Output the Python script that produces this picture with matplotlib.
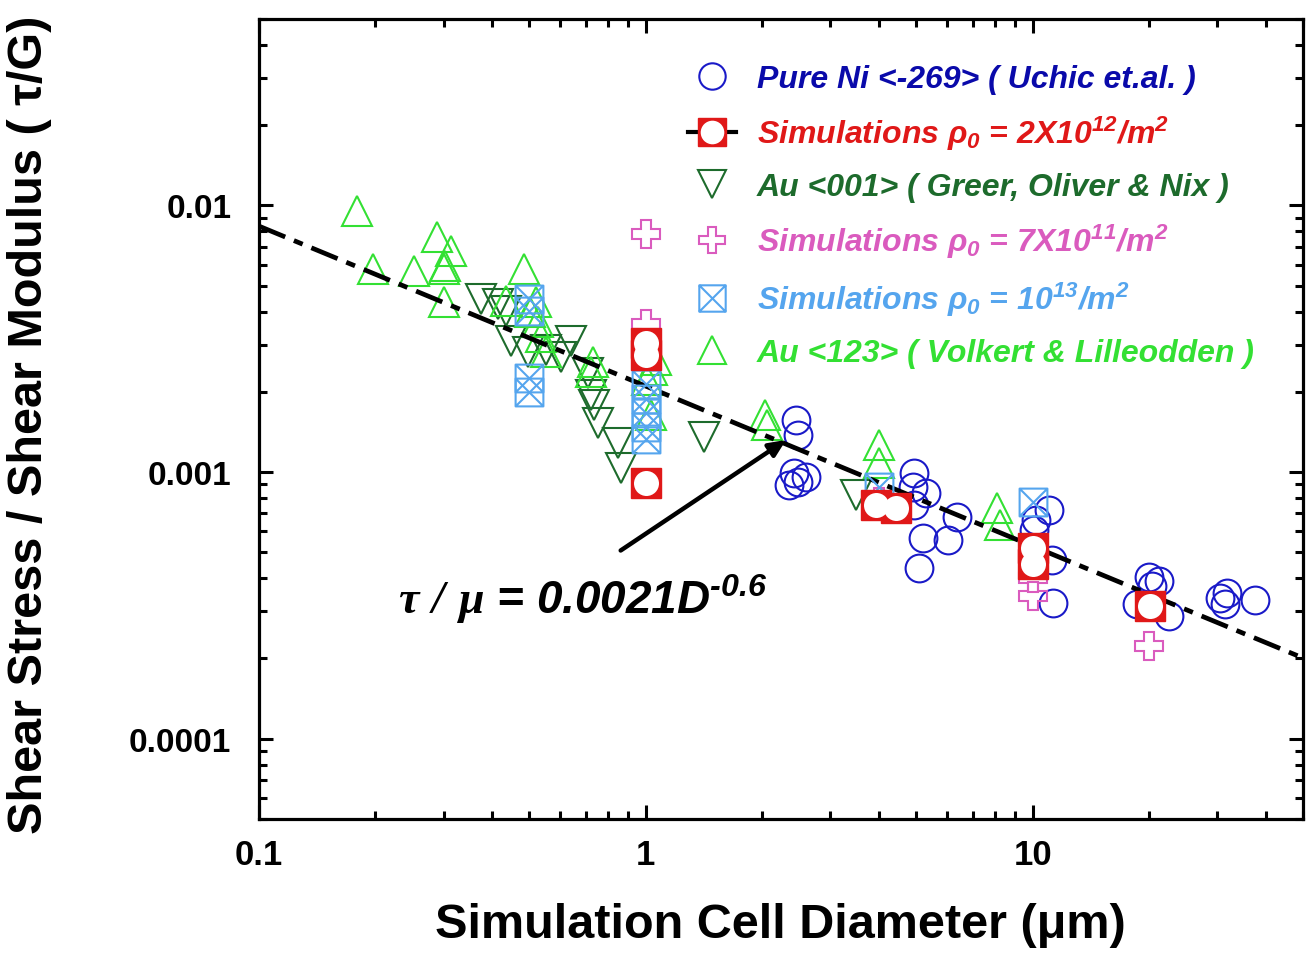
import matplotlib
matplotlib.use('Agg')
import matplotlib.pyplot as plt
import numpy as np
from matplotlib.lines import Line2D
from matplotlib.path import Path
from matplotlib.legend_handler import HandlerTuple

# Pure Ni <-269> (Uchic et al.)
ni_x = [2.45, 2.48, 2.42, 2.48, 2.60, 2.35, 4.95, 4.92, 5.31, 4.95, 6.36, 5.22, 6.06, 5.07,
        11.0, 10.1, 10.2, 11.2, 11.3, 18.6, 20.0, 21.2, 20.3, 22.5, 30.5, 31.4, 31.8, 37.6]
ni_y = [0.00157, 0.00138, 0.00099, 0.000916, 0.000958, 0.000893, 0.00099, 0.000878, 0.000834,
        0.000751, 0.000678, 0.000564, 0.000555, 0.000438, 0.000719, 0.000605, 0.00066, 0.000467,
        0.000324, 0.000321, 0.000403, 0.000392, 0.000375, 0.000289, 0.000338, 0.000321, 0.000353,
        0.00033]

# simulations rho0 = 2e12
sim2_x = [1.0, 1.0, 1.0, 3.94, 4.44, 10.0, 10.0, 20.1]
sim2_y = [0.00306, 0.00274, 0.00091, 0.000752, 0.000732, 0.000518, 0.000454, 0.000315]

# Au <001> (Greer, Oliver & Nix)
au001_x = [0.374, 0.414, 0.434, 0.447, 0.495, 0.551, 0.64, 0.602, 0.707, 0.72, 0.733, 0.751,
           0.846, 0.861, 1.41, 3.5]
au001_y = [0.00445, 0.00425, 0.00401, 0.00309, 0.00281, 0.00288, 0.00309, 0.00271, 0.00236,
           0.00195, 0.00179, 0.00153, 0.00129, 0.00104, 0.00135, 0.00082]

# simulations rho0 = 7e11
sim7_x = [1.0, 1.0, 4.0, 10.0, 10.0, 20.0]
sim7_y = [0.0078, 0.0036, 0.00077, 0.00040, 0.000344, 0.000223]

# simulations rho0 = 1e13
sim13_x = [0.5, 0.5, 0.5, 0.5, 1.0, 1.0, 1.0, 1.0, 1.0, 4.0, 10.0]
sim13_y = [0.00445, 0.00401, 0.00226, 0.0020, 0.00214, 0.00188, 0.00167, 0.00148, 0.00133,
           0.00088, 0.00077]

# Au <123> (Volkert & Lilleodden)
au123_x = [0.179, 0.197, 0.251, 0.289, 0.313, 0.303, 0.30, 0.30, 0.483, 0.434, 0.519, 0.503,
           0.525, 0.535, 0.551, 0.729, 0.72, 1.04, 1.01, 1.06, 1.03, 2.03, 2.06, 4.01, 4.01,
           8.07, 8.22]
au123_y = [0.00953, 0.00576, 0.00566, 0.0076, 0.00674, 0.00592, 0.00576, 0.00433, 0.00576,
           0.00437, 0.00433, 0.00397, 0.00364, 0.00322, 0.00281, 0.00259, 0.00238, 0.00242,
           0.00222, 0.00264, 0.00164, 0.00164, 0.0015, 0.00126, 0.00108, 0.000731, 0.000631]

# power-law fit tau/mu = A * D^n
fit_coef = 0.0021
fit_exp = -0.6
fit_x = np.array([0.1, 50.0])

x_ticks = [0.1, 1, 10]
x_ticklabels = ['0.1', '1', '10']
y_ticks = [1e-4, 1e-3, 1e-2]
y_ticklabels = ['0.0001', '0.001', '0.01']

c_ni = '#1A1AC8'
c_red = '#E01818'
c_dkgreen = '#1D6B2C'
c_pink = '#DA5BBE'
c_cyan = '#55A5EE'
c_green = '#33E033'

plt.rcParams['font.family'] = ['Liberation Sans', 'DejaVu Sans']
plt.rcParams['font.weight'] = 'bold'
plt.rcParams['mathtext.fontset'] = 'custom'
plt.rcParams['mathtext.rm'] = 'Liberation Sans:bold:italic'
plt.rcParams['mathtext.it'] = 'Liberation Sans:bold:italic'
plt.rcParams['mathtext.bf'] = 'Liberation Sans:bold:italic'
plt.rcParams['mathtext.sf'] = 'Liberation Serif:italic'

# square with a cross inside
boxx = Path([(-1, -1), (1, -1), (1, 1), (-1, 1), (-1, -1), (-1, -1), (1, 1), (-1, 1), (1, -1)],
            [Path.MOVETO, Path.LINETO, Path.LINETO, Path.LINETO, Path.CLOSEPOLY,
             Path.MOVETO, Path.LINETO, Path.MOVETO, Path.LINETO])

fig = plt.figure(figsize=(13.07, 9.62), dpi=100)
ax = fig.add_axes([259 / 1307, 1 - 820 / 962, 1044 / 1307, 800 / 962])
ax.set_xscale('log')
ax.set_yscale('log')
ax.set_xlim(0.1, 50)
ax.set_ylim(5e-5, 0.05)

mk = dict(ls='none', mfc='none', mew=1.5)
ax.plot(ni_x, ni_y, marker='o', ms=20, mec=c_ni, zorder=2, **mk)
ax.plot(au001_x, au001_y, marker='v', ms=21, mec=c_dkgreen, zorder=2, **mk)
ax.plot(au123_x, au123_y, marker='^', ms=21, mec=c_green, zorder=2, **mk)
ax.plot(fit_x, fit_coef * fit_x ** fit_exp, color='k', lw=3.4, dashes=(6, 2, 2, 2), zorder=3)
ax.plot(sim7_x, sim7_y, marker='P', ms=20, mec=c_pink, zorder=4, **mk)
ax.plot(sim13_x, sim13_y, marker=boxx, ms=20, mec=c_cyan, zorder=4, **mk)
ax.plot(sim2_x, sim2_y, ls='none', marker='s', ms=21, mfc=c_red, mec=c_red, zorder=5)
ax.plot(sim2_x, sim2_y, ls='none', marker='o', ms=18, mfc='white', mec='none', zorder=5)

# legend
h_ni = Line2D([], [], marker='o', ms=19, mec=c_ni, **mk)
h_red = (Line2D([], [], color='k', lw=3),
         Line2D([], [], ls='none', marker='s', ms=20, mfc=c_red, mec=c_red),
         Line2D([], [], ls='none', marker='o', ms=17, mfc='white', mec='none'))
h_au001 = Line2D([], [], marker='v', ms=20, mec=c_dkgreen, **mk)
h_sim7 = Line2D([], [], marker='P', ms=19, mec=c_pink, **mk)
h_sim13 = Line2D([], [], marker=boxx, ms=19, mec=c_cyan, **mk)
h_au123 = Line2D([], [], marker='^', ms=20, mec=c_green, **mk)
labels = ['Pure Ni <-269> ( Uchic et.al. )',
          r'Simulations $\rho_0$ = 2X10$^{12}$/m$^2$',
          'Au <001> ( Greer, Oliver & Nix )',
          r'Simulations $\rho_0$ = 7X10$^{11}$/m$^2$',
          r'Simulations $\rho_0$ = 10$^{13}$/m$^2$',
          'Au <123> ( Volkert & Lilleodden )']
leg = ax.legend([h_ni, h_red, h_au001, h_sim7, h_sim13, h_au123], labels,
                handler_map={tuple: HandlerTuple(ndivide=1, pad=0)},
                loc='upper left', bbox_to_anchor=(0.411, 0.944), frameon=False,
                borderpad=0, borderaxespad=0, handlelength=1.5, handletextpad=0.65,
                labelspacing=0.62,
                prop=dict(family='Liberation Sans', weight='bold', style='italic', size=23),
                labelcolor=['#0A0AAA', c_red, c_dkgreen, c_pink, c_cyan, c_green])

# fit annotation
ax.annotate('', xy=(2.305, 0.00132), xytext=(0.861, 0.000508),
            arrowprops=dict(arrowstyle='-|>,head_length=1.0,head_width=0.45', color='k', lw=3.2,
                            shrinkA=0, shrinkB=0), zorder=6)
ax.text(0.229, 0.000297, '$\\mathsf{\\tau\\ /\\ \\mu}$ = 0.0021D$^{\u2010 0.6}$',
        fontsize=33, fontweight='bold', fontstyle='italic', ha='left', va='baseline', zorder=6)

ax.set_xticks(x_ticks)
ax.set_xticklabels(x_ticklabels)
ax.set_yticks(y_ticks)
ax.set_yticklabels(y_ticklabels)
ax.tick_params(which='both', direction='in', top=True, right=True, width=2.2)
ax.tick_params(which='major', length=10)
ax.tick_params(which='minor', length=6)
ax.tick_params(axis='x', which='major', labelsize=25, pad=14)
ax.tick_params(axis='y', which='major', labelsize=24, pad=20)
for s in ax.spines.values():
    s.set_linewidth(2.3)

ax.set_xlabel('Simulation Cell Diameter (μm)', fontsize=35, fontweight='bold')
ax.set_ylabel('Shear Stress / Shear Modulus ( τ/G)', fontsize=35, fontweight='bold')
ax.xaxis.set_label_coords(0.499, -0.104)
ax.yaxis.set_label_coords(-0.198, 0.494)

plt.savefig('out.png', dpi=100)
plt.close(fig)
